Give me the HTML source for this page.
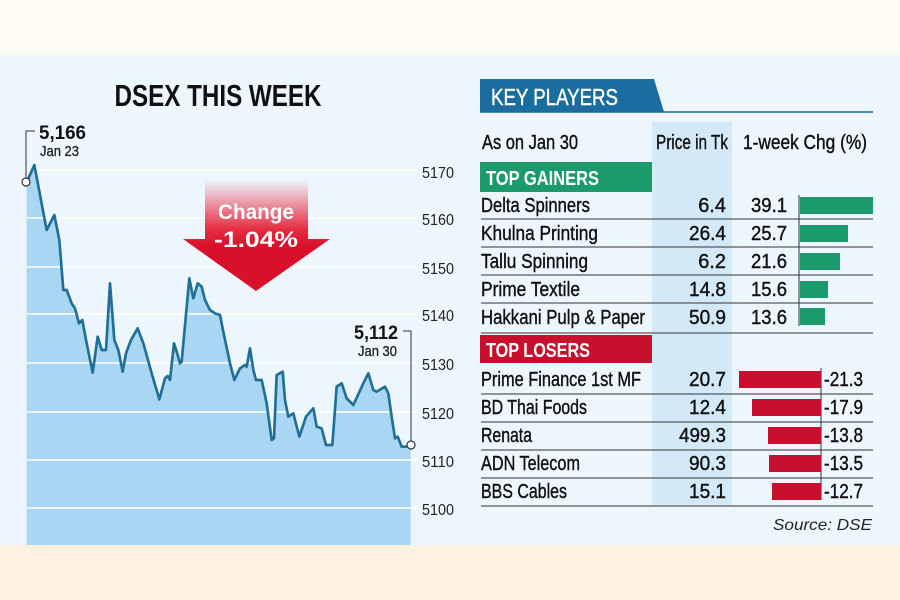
<!DOCTYPE html>
<html><head><meta charset="utf-8"><style>
html,body{margin:0;padding:0;background:#fdf5ec;}
svg{display:block;font-family:"Liberation Sans",sans-serif;}
</style></head><body>
<svg width="900" height="600" viewBox="0 0 900 600">
<defs>
<linearGradient id="ag" x1="0" y1="0" x2="0" y2="1">
<stop offset="0" stop-color="#e8102a" stop-opacity="0"/>
<stop offset="0.45" stop-color="#e4152c" stop-opacity="0.9"/>
<stop offset="0.6" stop-color="#d8102a"/>
<stop offset="1" stop-color="#d8102a"/>
</linearGradient>
</defs>
<rect x="0" y="0" width="900" height="600" fill="#fefaf4"/>
<rect x="0" y="55" width="900" height="490" fill="#eef6fd"/>
<rect x="0" y="545" width="900" height="55" fill="#fdf1e2"/>

<text x="218" y="106" font-size="31" font-weight="bold" text-anchor="middle" textLength="207" lengthAdjust="spacingAndGlyphs" fill="#111">DSEX THIS WEEK</text>

<g transform="translate(0,50) scale(0.33333)">
<polygon fill="#a9d6f3" points="80,397 103,345 140,540 163,495 178,570 190,720 200,720 215,760 225,775 237,820 247,810 260,880 278,968 293,860 305,900 318,900 330,700 343,870 355,900 368,965 378,910 393,870 413,835 430,880 455,970 478,1048 495,985 503,978 510,990 522,880 530,905 540,940 545,935 568,685 580,745 593,700 605,710 615,750 630,780 645,790 660,795 673,860 690,940 703,990 720,955 735,945 740,950 750,895 760,960 768,990 785,990 800,1060 815,1170 822,1165 830,975 848,965 855,1050 865,1100 880,1090 898,1160 918,1100 940,1075 950,1130 965,1135 978,1185 997,1185 1010,1010 1025,1000 1040,1045 1060,1065 1090,1000 1105,970 1120,1020 1130,1025 1155,1010 1165,1030 1175,1100 1185,1165 1193,1160 1205,1190 1218,1190 1232,1185 1232,1485 80,1485"/>
</g>
<g stroke="#ffffff" stroke-width="1.5">
<line x1="27" y1="218" x2="418" y2="218"/>
<line x1="27" y1="267" x2="418" y2="267"/>
<line x1="27" y1="314" x2="418" y2="314"/>
<line x1="27" y1="363" x2="418" y2="363"/>
<line x1="27" y1="412" x2="418" y2="412"/>
<line x1="27" y1="460" x2="418" y2="460"/>
<line x1="27" y1="508" x2="418" y2="508"/>
<line x1="27" y1="170" x2="418" y2="170"/>
</g>
<g transform="translate(0,50) scale(0.33333)">
<polyline fill="none" stroke="#1f6f96" stroke-width="8" stroke-linejoin="round" points="80,397 103,345 140,540 163,495 178,570 190,720 200,720 215,760 225,775 237,820 247,810 260,880 278,968 293,860 305,900 318,900 330,700 343,870 355,900 368,965 378,910 393,870 413,835 430,880 455,970 478,1048 495,985 503,978 510,990 522,880 530,905 540,940 545,935 568,685 580,745 593,700 605,710 615,750 630,780 645,790 660,795 673,860 690,940 703,990 720,955 735,945 740,950 750,895 760,960 768,990 785,990 800,1060 815,1170 822,1165 830,975 848,965 855,1050 865,1100 880,1090 898,1160 918,1100 940,1075 950,1130 965,1135 978,1185 997,1185 1010,1010 1025,1000 1040,1045 1060,1065 1090,1000 1105,970 1120,1020 1130,1025 1155,1010 1165,1030 1175,1100 1185,1165 1193,1160 1205,1190 1218,1190 1232,1185"/>
</g>
<g font-size="16" fill="#222">
<text x="422" y="178" textLength="32" lengthAdjust="spacingAndGlyphs">5170</text>
<text x="422" y="225" textLength="32" lengthAdjust="spacingAndGlyphs">5160</text>
<text x="422" y="274" textLength="32" lengthAdjust="spacingAndGlyphs">5150</text>
<text x="422" y="321" textLength="32" lengthAdjust="spacingAndGlyphs">5140</text>
<text x="422" y="370" textLength="32" lengthAdjust="spacingAndGlyphs">5130</text>
<text x="422" y="419" textLength="32" lengthAdjust="spacingAndGlyphs">5120</text>
<text x="422" y="467" textLength="32" lengthAdjust="spacingAndGlyphs">5110</text>
<text x="422" y="515" textLength="32" lengthAdjust="spacingAndGlyphs">5100</text>
</g>
<polyline points="26,182 26,131 35,131" fill="none" stroke="#333" stroke-width="1"/>
<circle cx="26" cy="182" r="4" fill="#fff" stroke="#333" stroke-width="1.2"/>
<text x="39" y="139" font-size="19" font-weight="bold" textLength="47" lengthAdjust="spacingAndGlyphs" fill="#111">5,166</text>
<text x="40" y="156" font-size="15" textLength="39" lengthAdjust="spacingAndGlyphs" fill="#222" stroke="#222" stroke-width="0.3">Jan 23</text>
<polyline points="403,331 411,331 411,445" fill="none" stroke="#333" stroke-width="1"/>
<circle cx="411" cy="445" r="4" fill="#fff" stroke="#333" stroke-width="1.2"/>
<text x="398" y="339" font-size="19" font-weight="bold" text-anchor="end" textLength="44" lengthAdjust="spacingAndGlyphs" fill="#111">5,112</text>
<text x="397" y="356" font-size="15" text-anchor="end" textLength="39" lengthAdjust="spacingAndGlyphs" fill="#222" stroke="#222" stroke-width="0.3">Jan 30</text>

<polygon points="205,180 308,180 308,239 330,239 256,291 183,239 205,239" fill="url(#ag)"/>
<text x="256" y="219" font-size="21" font-weight="bold" fill="#fff" text-anchor="middle" textLength="76" lengthAdjust="spacingAndGlyphs">Change</text>
<text x="256" y="247" font-size="22" font-weight="bold" fill="#fff" text-anchor="middle" textLength="84" lengthAdjust="spacingAndGlyphs">-1.04%</text>

<polygon points="480,79 654,79 664,112 480,112" fill="#1a6d9e"/>
<line x1="480" y1="112" x2="873" y2="112" stroke="#1a6d9e" stroke-width="1.5"/>
<text x="491" y="105" font-size="23" fill="#fff" stroke="#fff" stroke-width="0.4" textLength="127" lengthAdjust="spacingAndGlyphs">KEY PLAYERS</text>

<rect x="652" y="122" width="80" height="383" fill="#d3e9f8"/>
<g font-size="20" fill="#111" stroke="#111" stroke-width="0.4">
<text x="482" y="149" textLength="96" lengthAdjust="spacingAndGlyphs">As on Jan 30</text>
<text x="656" y="149" textLength="72" lengthAdjust="spacingAndGlyphs">Price in Tk</text>
<text x="743" y="149" textLength="124" lengthAdjust="spacingAndGlyphs">1-week Chg (%)</text>
</g>
<rect x="480" y="162" width="172" height="30" fill="#1d9a6c"/>
<text x="486" y="185" font-size="20" font-weight="bold" fill="#fff" textLength="113" lengthAdjust="spacingAndGlyphs">TOP GAINERS</text>
<rect x="480" y="335" width="172" height="28" fill="#c8102e"/>
<text x="486" y="357" font-size="20" font-weight="bold" fill="#fff" textLength="104" lengthAdjust="spacingAndGlyphs">TOP LOSERS</text>

<g stroke="#333" stroke-width="1">
<line x1="481" y1="219" x2="873" y2="219"/>
<line x1="481" y1="247" x2="873" y2="247"/>
<line x1="481" y1="275" x2="873" y2="275"/>
<line x1="481" y1="303" x2="873" y2="303"/>
<line x1="481" y1="333" x2="873" y2="333"/>
<line x1="481" y1="394" x2="873" y2="394"/>
<line x1="481" y1="422" x2="873" y2="422"/>
<line x1="481" y1="450" x2="873" y2="450"/>
<line x1="481" y1="478" x2="873" y2="478"/>
<line x1="481" y1="506" x2="873" y2="506"/>
<line x1="799" y1="195" x2="799" y2="326"/>
<line x1="821" y1="368" x2="821" y2="500"/>
</g>
<g fill="#1d9a6c">
<rect x="800" y="197" width="73" height="17"/>
<rect x="800" y="225" width="48" height="17"/>
<rect x="800" y="253" width="40" height="17"/>
<rect x="800" y="281" width="28" height="17"/>
<rect x="800" y="308" width="25" height="17"/>
</g>
<g fill="#c8102e">
<rect x="739" y="371" width="82" height="17"/>
<rect x="752" y="399" width="69" height="17"/>
<rect x="768" y="427" width="53" height="17"/>
<rect x="769" y="455" width="52" height="17"/>
<rect x="772" y="483" width="49" height="17"/>
</g>
<g font-size="20" fill="#111" stroke="#111" stroke-width="0.4">
<text x="481" y="212" textLength="109" lengthAdjust="spacingAndGlyphs">Delta Spinners</text>
<text x="481" y="240" textLength="117" lengthAdjust="spacingAndGlyphs">Khulna Printing</text>
<text x="481" y="268" textLength="107" lengthAdjust="spacingAndGlyphs">Tallu Spinning</text>
<text x="481" y="296" textLength="99" lengthAdjust="spacingAndGlyphs">Prime Textile</text>
<text x="481" y="324" textLength="164" lengthAdjust="spacingAndGlyphs">Hakkani Pulp &amp; Paper</text>
<text x="481" y="386" textLength="160" lengthAdjust="spacingAndGlyphs">Prime Finance 1st MF</text>
<text x="481" y="414" textLength="106" lengthAdjust="spacingAndGlyphs">BD Thai Foods</text>
<text x="481" y="442" textLength="51" lengthAdjust="spacingAndGlyphs">Renata</text>
<text x="481" y="470" textLength="99" lengthAdjust="spacingAndGlyphs">ADN Telecom</text>
<text x="481" y="498" textLength="86" lengthAdjust="spacingAndGlyphs">BBS Cables</text>
</g>
<g font-size="20" fill="#111" stroke="#111" stroke-width="0.4" text-anchor="end">
<text x="726" y="212">6.4</text>
<text x="726" y="240" textLength="37" lengthAdjust="spacingAndGlyphs">26.4</text>
<text x="726" y="268">6.2</text>
<text x="726" y="296" textLength="37" lengthAdjust="spacingAndGlyphs">14.8</text>
<text x="726" y="324" textLength="37" lengthAdjust="spacingAndGlyphs">50.9</text>
<text x="726" y="386" textLength="37" lengthAdjust="spacingAndGlyphs">20.7</text>
<text x="726" y="414" textLength="37" lengthAdjust="spacingAndGlyphs">12.4</text>
<text x="726" y="442" textLength="47" lengthAdjust="spacingAndGlyphs">499.3</text>
<text x="726" y="470" textLength="37" lengthAdjust="spacingAndGlyphs">90.3</text>
<text x="726" y="498" textLength="37" lengthAdjust="spacingAndGlyphs">15.1</text>
<text x="787" y="212" textLength="36" lengthAdjust="spacingAndGlyphs">39.1</text>
<text x="787" y="240" textLength="36" lengthAdjust="spacingAndGlyphs">25.7</text>
<text x="787" y="268" textLength="36" lengthAdjust="spacingAndGlyphs">21.6</text>
<text x="787" y="296" textLength="36" lengthAdjust="spacingAndGlyphs">15.6</text>
<text x="787" y="324" textLength="36" lengthAdjust="spacingAndGlyphs">13.6</text>
</g>
<g font-size="20" fill="#111" stroke="#111" stroke-width="0.4">
<text x="824" y="386" textLength="39" lengthAdjust="spacingAndGlyphs">-21.3</text>
<text x="824" y="414" textLength="39" lengthAdjust="spacingAndGlyphs">-17.9</text>
<text x="824" y="442" textLength="39" lengthAdjust="spacingAndGlyphs">-13.8</text>
<text x="824" y="470" textLength="39" lengthAdjust="spacingAndGlyphs">-13.5</text>
<text x="824" y="498" textLength="39" lengthAdjust="spacingAndGlyphs">-12.7</text>
</g>
<text x="872" y="530" font-size="16" font-style="italic" text-anchor="end" fill="#222" textLength="99" lengthAdjust="spacingAndGlyphs">Source: DSE</text>
</svg>
</body></html>
